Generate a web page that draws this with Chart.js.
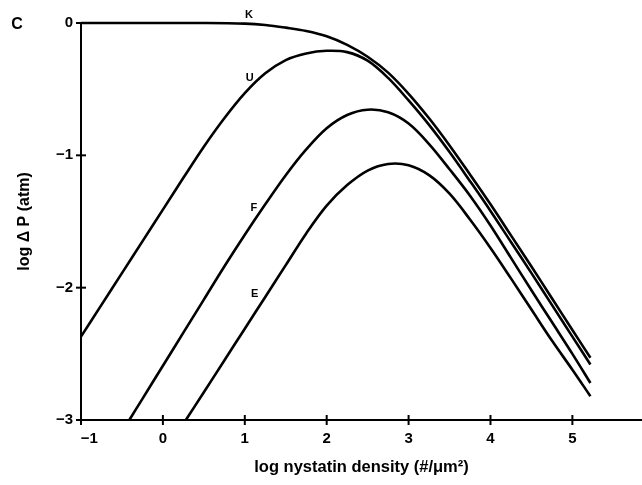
<!DOCTYPE html>
<html>
<head>
<meta charset="utf-8">
<script src="https://cdn.jsdelivr.net/npm/chart.js@4/dist/chart.umd.min.js"></script>
<style>
  html, body { margin: 0; padding: 0; background: #fff; }
  #wrap { width: 642px; height: 485px; position: relative; }
</style>
</head>
<body>
<div id="wrap"><canvas id="c"></canvas></div>
<script>
// ---- data ----
const xTicks = [-1, 0, 1, 2, 3, 4, 5];
const yTicks = [-3, -2, -1, 0];

const kX = [-1, -0.5, 0, 0.5, 1.0, 1.25, 1.5, 1.75, 2.0, 2.25, 2.5, 2.75, 3.0, 3.25, 3.5, 3.75, 4.0, 4.25, 4.5, 4.75, 5.0, 5.22];
const kY = [0, 0, 0, 0, -0.005, -0.015, -0.035, -0.06, -0.10, -0.165, -0.255, -0.375, -0.535, -0.72, -0.925, -1.145, -1.37, -1.605, -1.84, -2.08, -2.32, -2.53];

const uX = [-1, -0.75, -0.5, -0.25, 0, 0.25, 0.5, 0.75, 1.0, 1.25, 1.5, 1.75, 2.0, 2.25, 2.5, 2.75, 3.0, 3.25, 3.5, 3.75, 4.0, 4.25, 4.5, 4.75, 5.0, 5.22];
const uY = [-2.37, -2.13, -1.89, -1.65, -1.41, -1.17, -0.935, -0.72, -0.53, -0.38, -0.28, -0.23, -0.21, -0.22, -0.285, -0.415, -0.585, -0.77, -0.975, -1.195, -1.42, -1.655, -1.89, -2.13, -2.37, -2.58];

const fX = [-0.41, -0.25, 0, 0.25, 0.5, 0.75, 1.0, 1.25, 1.5, 1.75, 2.0, 2.25, 2.5, 2.75, 3.0, 3.25, 3.5, 3.75, 4.0, 4.25, 4.5, 4.75, 5.0, 5.22];
const fY = [-3.0, -2.84, -2.59, -2.34, -2.09, -1.84, -1.60, -1.37, -1.15, -0.955, -0.795, -0.695, -0.655, -0.675, -0.76, -0.915, -1.105, -1.305, -1.53, -1.775, -2.02, -2.26, -2.50, -2.72];

const eX = [0.28, 0.5, 0.75, 1.0, 1.25, 1.5, 1.75, 2.0, 2.25, 2.5, 2.75, 3.0, 3.25, 3.5, 3.75, 4.0, 4.25, 4.5, 4.75, 5.0, 5.22];
const eY = [-3.0, -2.79, -2.55, -2.31, -2.07, -1.83, -1.59, -1.38, -1.225, -1.115, -1.065, -1.075, -1.15, -1.29, -1.485, -1.70, -1.93, -2.165, -2.40, -2.62, -2.82];

const seriesNames = ['K', 'U', 'F', 'E'];
// curve label anchor points in data units
const labelX = [1.05, 1.06, 1.11, 1.12];
const labelY = [0.06, -0.415, -1.40, -2.05];

const panelLetter = 'C';
const xTitle = 'log nystatin density (#/\u03BCm\u00B2)';
const yTitle = 'log \u0394 P (atm)';

// ---- build ----
function pts(xs, ys) { return xs.map((x, i) => ({ x: x, y: ys[i] })); }
const allX = [kX, uX, fX, eX];
const allY = [kY, uY, fY, eY];

const datasets = seriesNames.map((n, i) => ({
  label: n,
  data: pts(allX[i], allY[i]),
  borderColor: '#000',
  borderWidth: 2.6,
  pointRadius: 0,
  fill: false,
  tension: 0.35,
  clip: 6
}));

const minus = v => (v < 0 ? '\u2212' + Math.abs(v) : String(v));
const FONT = "'Liberation Sans', Arial, sans-serif";

const decor = {
  id: 'decor',
  afterDraw(chart) {
    const ctx = chart.ctx;
    const xs = chart.scales.x, ys = chart.scales.y;
    const ca = chart.chartArea;
    ctx.save();
    ctx.strokeStyle = '#000';
    ctx.lineWidth = 2;
    // tick marks crossing the axes
    xTicks.forEach(v => {
      const px = xs.getPixelForValue(v);
      ctx.beginPath(); ctx.moveTo(px, ca.bottom - 5); ctx.lineTo(px, ca.bottom + 5); ctx.stroke();
    });
    yTicks.forEach(v => {
      const py = ys.getPixelForValue(v);
      ctx.beginPath(); ctx.moveTo(ca.left - 5, py); ctx.lineTo(ca.left + 5, py); ctx.stroke();
    });
    // curve labels
    ctx.fillStyle = '#000';
    ctx.font = "bold 11px " + FONT;
    ctx.textAlign = 'center';
    ctx.textBaseline = 'middle';
    seriesNames.forEach((n, i) => {
      ctx.fillText(n, xs.getPixelForValue(labelX[i]), ys.getPixelForValue(labelY[i]));
    });
    // panel letter
    ctx.font = "bold 16px " + FONT;
    ctx.fillText(panelLetter, 17, 25);
    ctx.restore();
  }
};

new Chart(document.getElementById('c'), {
  type: 'line',
  data: { datasets: datasets },
  options: {
    responsive: true,
    maintainAspectRatio: false,
    devicePixelRatio: 1,
    animation: false,
    layout: { padding: { top: 23, right: 0, left: 0, bottom: 0 } },
    plugins: { legend: { display: false }, tooltip: { enabled: false } },
    scales: {
      x: {
        type: 'linear',
        min: -1,
        max: 5.85,
        afterBuildTicks: s => { s.ticks = xTicks.map(v => ({ value: v })); },
        afterFit: s => { s.height = 65; },
        border: { display: true, color: '#000', width: 2 },
        grid: { display: false, drawTicks: false },
        ticks: {
          color: '#000',
          padding: 10,
          maxRotation: 0,
          font: { family: FONT, size: 15, weight: 'bold' },
          // first label sits a little right of its tick in the original
          callback: v => (v === -1 ? '\u00A0\u00A0\u00A0\u00A0' + minus(v) : minus(v))
        },
        title: {
          display: true,
          text: xTitle,
          color: '#000',
          font: { family: FONT, size: 16.5, weight: 'bold' },
          padding: { top: 0, bottom: 8 }
        }
      },
      y: {
        type: 'linear',
        min: -3,
        max: 0,
        afterBuildTicks: s => { s.ticks = yTicks.map(v => ({ value: v })); },
        afterFit: s => { s.width = 81; },
        border: { display: true, color: '#000', width: 2 },
        grid: { display: false, drawTicks: false },
        ticks: {
          color: '#000',
          padding: 8,
          font: { family: FONT, size: 15, weight: 'bold' },
          callback: v => minus(v)
        },
        title: {
          display: true,
          text: yTitle,
          color: '#000',
          font: { family: FONT, size: 16, weight: 'bold' },
          padding: { top: 15, bottom: 0 }
        }
      }
    }
  },
  plugins: [decor]
});
</script>
</body>
</html>
